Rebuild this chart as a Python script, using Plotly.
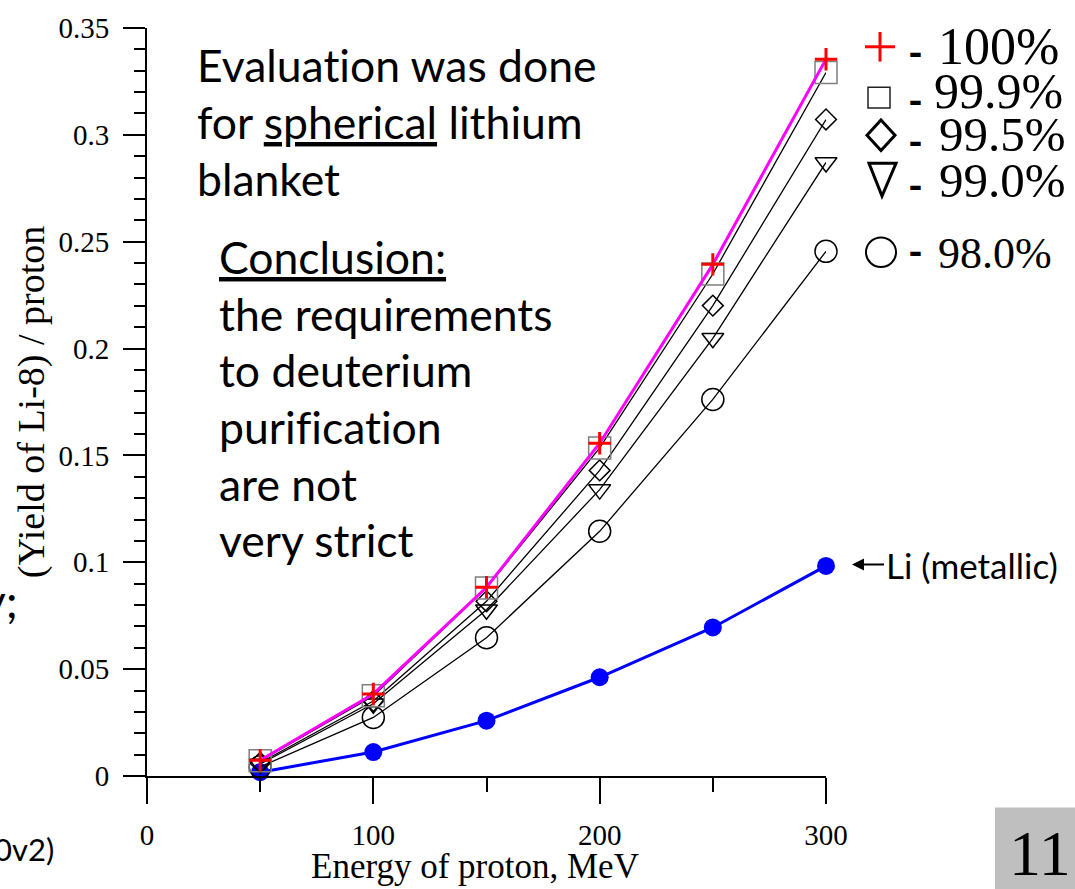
import plotly.graph_objects as go

# ---------------- data ----------------
energy = [50, 100, 150, 200, 250, 300]
purity_100 = [0.0074, 0.0384, 0.0883, 0.1557, 0.2394, 0.3354]
purity_999 = [0.0071, 0.0375, 0.0880, 0.1535, 0.2349, 0.3292]
purity_995 = [0.0062, 0.0351, 0.0818, 0.1430, 0.2201, 0.3072]
purity_990 = [0.0056, 0.0338, 0.0778, 0.1340, 0.2048, 0.2871]
purity_980 = [0.0043, 0.0274, 0.0647, 0.1145, 0.1762, 0.2455]
li_metallic = [0.0018, 0.0112, 0.0259, 0.0462, 0.0695, 0.0983]

y_tickvals = [0, 0.05, 0.1, 0.15, 0.2, 0.25, 0.3, 0.35]
y_ticktext = ["0", "0.05", "0.1", "0.15", "0.2", "0.25", "0.3", "0.35"]
x_tickvals = [0, 100, 200, 300]
x_ticktext = ["0", "100", "200", "300"]
legend_labels = ["100%", "99.9%", "99.5%", "99.0%", "98.0%"]

# ---------------- layout geometry ----------------
W, H = 1075, 889
L, R, T, B = 147, 826, 19, 776

def px(x):
    return (x - L) / (R - L)

def py(y):
    return (B - y) / (B - T)

SERIF = "Liberation Serif"
SANS = "Lato"
NOLIG = '<span style="font-variant-ligatures:none;font-feature-settings:\'liga\' 0">'

fig = go.Figure()

def add_series(y, name, line_color, line_width, symbol, mcolor, msize, mlw):
    fig.add_trace(go.Scatter(
        x=energy, y=y, name=name, mode="lines+markers",
        line=dict(color=line_color, width=line_width),
        marker=dict(symbol=symbol, color=mcolor, size=msize,
                    line=dict(color=mcolor, width=mlw)),
        cliponaxis=False, showlegend=False))

add_series(li_metallic, "Li (metallic)", "#0000ff", 3, "circle", "#0000ff", 18, 0)
add_series(purity_980, "98.0%", "#000000", 1.3, "circle-open", "#000000", 22, 1.5)
add_series(purity_990, "99.0%", "#000000", 1.3, "triangle-down-open", "#000000", 19, 1.5)
add_series(purity_995, "99.5%", "#000000", 1.3, "diamond-open", "#000000", 16, 1.5)
add_series(purity_999, "99.9%", "#000000", 1.3, "square-open", "#7f7f7f", 22, 1.5)
add_series(purity_100, "100%", "#ff00ff", 3, "cross-thin-open", "#ff0000", 16, 3)

fig.update_layout(
    width=W, height=H,
    margin=dict(l=L, r=W - R, t=T, b=H - B),
    paper_bgcolor="white", plot_bgcolor="white",
    font=dict(family=SERIF, color="black"),
)

fig.update_xaxes(
    range=[0, 300], showgrid=False, zeroline=False,
    showline=True, linecolor="black", linewidth=2,
    ticks="outside", ticklen=26, tickwidth=2, tickcolor="black",
    tickvals=x_tickvals, ticktext=x_ticktext,
    tickfont=dict(family=SERIF, size=29, color="black"),
    ticklabelstandoff=6,
    minor=dict(tickvals=[50, 150, 250], ticks="outside", ticklen=14,
               tickwidth=2, tickcolor="black", showgrid=False),
)
fig.update_yaxes(
    range=[0, 0.35], showgrid=False, zeroline=False,
    showline=True, linecolor="black", linewidth=2,
    ticks="outside", ticklen=22, tickwidth=2, tickcolor="black",
    tickvals=y_tickvals, ticktext=y_ticktext,
    tickfont=dict(family=SERIF, size=29, color="black"),
    ticklabelstandoff=8,
    minor=dict(dtick=0.01, ticks="outside", ticklen=11,
               tickwidth=2, tickcolor="black", showgrid=False),
    title=dict(text="(Yield of Li-8) / proton",
               font=dict(family=SERIF, size=38, color="black"), standoff=2),
)

ann = []

def text(x, y, s, size, family=SANS, xanchor="left", color="black", yanchor="middle"):
    ann.append(dict(xref="paper", yref="paper", x=px(x), y=py(y), text=s,
                    showarrow=False, xanchor=xanchor, yanchor=yanchor,
                    font=dict(family=family, size=size, color=color)))

# x-axis title
text(475, 868, "Energy of proton, MeV", 35, family=SERIF, xanchor="center")

# Text blocks
fs = 44.5
for s, base in [("Evaluation was done", 73),
                ("for <u>spherical</u> lithium", 131),
                ("blanket", 188)]:
    text(195, base - 17, NOLIG + s + "</span>", fs)
for s, base in [("<u>Conclusion:</u>", 267),
                ("the requirements", 325),
                ("to deuterium", 382),
                ("purification", 439),
                ("are not", 497),
                ("very strict", 554)]:
    text(217, base - 17, NOLIG + s + "</span>", fs)

# Legend text
legend_rows = [(43, 55, 940, 52), (92, 100, 936, 50), (133, 143, 941, 49),
               (178, 190, 941, 49), (245, 262, 940, 44)]
for lbl, (dy, base, lx, size) in zip(legend_labels, legend_rows):
    text(906, dy, "<b>-</b>", 40, family=SANS)
    text(lx - 4, base - 0.34 * size, lbl, size, family=SERIF)

# Li (metallic) label with arrow
ann.append(dict(xref="paper", yref="paper", x=px(852), y=py(562),
                text="Li (metallic)", showarrow=True, axref="pixel", ayref="pixel",
                ax=32, ay=0, xanchor="left", yanchor="middle",
                arrowhead=2, arrowsize=1.2, arrowwidth=2, arrowcolor="black",
                font=dict(family=SANS, size=35, color="black")))

# Cropped slide fragments
text(56, 850, "0v2)", 31, xanchor="right")
text(20, 598, "y;", 46, xanchor="right")
text(1073, 854, "11", 64, family=SERIF, xanchor="right")

fig.update_layout(annotations=ann)

# Slide-number box and legend glyphs as shapes
shapes = [dict(type="rect", xref="paper", yref="paper", layer="below",
               x0=px(995), x1=px(1080), y0=py(808), y1=py(895),
               fillcolor="#bfbfbf", line=dict(width=0))]
# plus
shapes.append(dict(type="line", xref="paper", yref="paper",
                   x0=px(865), x1=px(895), y0=py(38), y1=py(38),
                   line=dict(color="#ff0000", width=3)))
shapes.append(dict(type="line", xref="paper", yref="paper",
                   x0=px(880), x1=px(880), y0=py(23), y1=py(53),
                   line=dict(color="#ff0000", width=3)))
# square
shapes.append(dict(type="rect", xref="paper", yref="paper",
                   x0=px(868), x1=px(890), y0=py(79), y1=py(100),
                   line=dict(color="#222222", width=1.5)))
# diamond
shapes.append(dict(type="path", xref="paper", yref="paper",
                   path=f"M {px(881)} {py(112)} L {px(895)} {py(127.5)} L {px(881)} {py(143)} L {px(867)} {py(127.5)} Z",
                   line=dict(color="black", width=3)))
# triangle down
shapes.append(dict(type="path", xref="paper", yref="paper",
                   path=f"M {px(869)} {py(156)} L {px(896)} {py(156)} L {px(882)} {py(189)} Z",
                   line=dict(color="black", width=3)))
# circle
shapes.append(dict(type="circle", xref="paper", yref="paper",
                   x0=px(866), x1=px(896), y0=py(231), y1=py(261),
                   line=dict(color="black", width=2)))
fig.update_layout(shapes=shapes)

fig.write_html("out.html")
